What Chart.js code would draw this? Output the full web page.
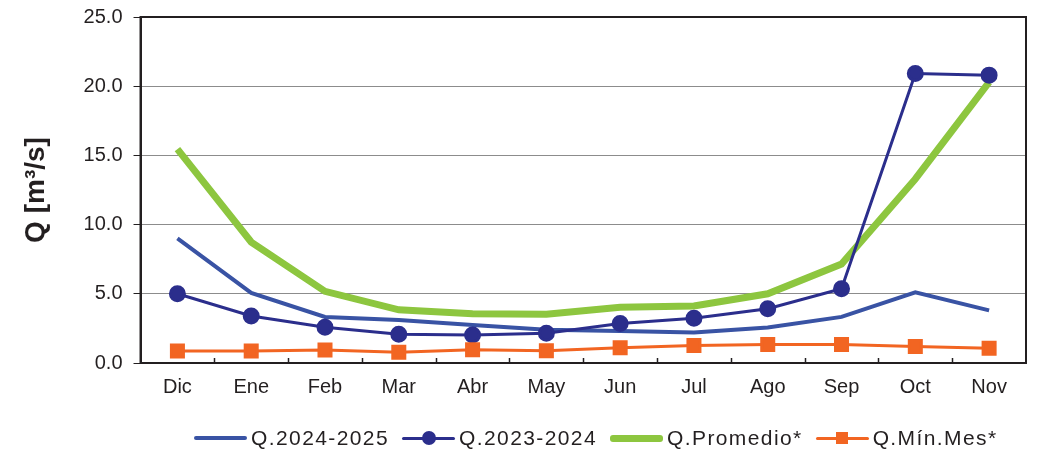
<!DOCTYPE html>
<html>
<head>
<meta charset="utf-8">
<script src="https://cdn.jsdelivr.net/npm/chart.js@4.4.1/dist/chart.umd.min.js"></script>
<style>
  body { margin: 0; background: #fff; }
  #wrap { position: relative; width: 1043px; height: 455px; }
  #legend { position: absolute; left: 194px; top: 425px; display: flex; gap: 13px;
            font-family: "Liberation Sans", Arial, sans-serif; font-size: 21px; color: #231F20;
            letter-spacing: 1.4px; }
  .item { display: flex; align-items: center; gap: 4px; }
  .sw { position: relative; width: 53px; height: 26px; }
  .sw .ln { position: absolute; left: 0; right: 0; top: 50%; border-radius: 3px; }
  .sw .mk { position: absolute; left: 50%; top: 50%; }
</style>
</head>
<body>
<div id="wrap">
  <canvas id="chart" width="1043" height="455"></canvas>
  <div id="legend"></div>
</div>
<script>
try {

// months (Dic..Nov)
const months = ['Dic', 'Ene', 'Feb', 'Mar', 'Abr', 'May', 'Jun', 'Jul', 'Ago', 'Sep', 'Oct', 'Nov'];

// caudales m3/s
const q2024_2025 = [9.0, 5.07, 3.33, 3.1, 2.75, 2.4, 2.32, 2.2, 2.56, 3.33, 5.1, 3.8];
const q2023_2024 = [5.0, 3.4, 2.58, 2.07, 2.03, 2.15, 2.85, 3.24, 3.92, 5.36, 20.92, 20.8];
const qPromedio  = [15.45, 8.74, 5.18, 3.84, 3.56, 3.52, 4.02, 4.12, 5.0, 7.15, 13.3, 20.3];
const qMinMes    = [0.87, 0.87, 0.94, 0.77, 0.96, 0.88, 1.1, 1.26, 1.33, 1.33, 1.2, 1.06];

const yTicks = [0, 5, 10, 15, 20, 25];

const FONT = '"Liberation Sans", Arial, sans-serif';
const TXT = '#231F20';

// frame around plot + small inner ticks on x axis
const framePlugin = {
  id: 'frame',
  afterDraw(chart) {
    const a = chart.chartArea, ctx = chart.ctx, x = chart.scales.x;
    ctx.save();
    ctx.strokeStyle = TXT;
    ctx.lineWidth = 2;
    ctx.strokeRect(a.left, a.top, a.right - a.left, a.bottom - a.top);
    ctx.lineWidth = 1.5;
    for (let i = 1; i < months.length; i++) {
      const px = Math.round(x.getPixelForValue(i - 0.5)) + 0.5;
      ctx.beginPath();
      ctx.moveTo(px, a.bottom);
      ctx.lineTo(px, a.bottom - 5);
      ctx.stroke();
    }
    ctx.restore();
  }
};

const datasets = [
  { label: 'Q.2024-2025', data: q2024_2025, borderColor: '#3953A4', backgroundColor: '#3953A4',
    borderWidth: 4, pointRadius: 0, order: 2 },
  { label: 'Q.2023-2024', data: q2023_2024, borderColor: '#2B2E8C', backgroundColor: '#2B2E8C',
    borderWidth: 3, pointRadius: 7, pointStyle: 'circle', order: 1 },
  { label: 'Q.Promedio*', data: qPromedio, borderColor: '#8DC63F', backgroundColor: '#8DC63F',
    borderWidth: 7, pointRadius: 0, order: 3 },
  { label: 'Q.Mín.Mes*', data: qMinMes, borderColor: '#F26522', backgroundColor: '#F26522',
    borderWidth: 3, pointRadius: 8.5, pointStyle: 'rect', order: 0 }
];

new Chart(document.getElementById('chart'), {
  type: 'line',
  data: { labels: months, datasets: datasets },
  options: {
    responsive: false,
    animation: false,
    layout: { padding: { top: 0, right: 17, bottom: 44, left: 19 } },
    plugins: { legend: { display: false }, tooltip: { enabled: false } },
    elements: { line: { tension: 0 } },
    scales: {
      x: {
        offset: true,
        grid: { display: false, drawTicks: false },
        border: { display: true, color: TXT, width: 2 },
        ticks: { color: TXT, font: { family: FONT, size: 20 }, padding: 12 }
      },
      y: {
        min: 0, max: 25,
        afterBuildTicks(s) { s.ticks = yTicks.map(v => ({ value: v })); },
        grid: { color: '#8c8c8c', lineWidth: 1, tickLength: 7, tickColor: TXT },
        border: { display: true, color: TXT, width: 2 },
        ticks: { color: TXT, font: { family: FONT, size: 20, lineHeight: 0.6 }, padding: 11,
                 callback: v => v.toFixed(1) },
        title: { display: true, text: 'Q [m³/s]', color: TXT,
                 font: { family: FONT, size: 28, weight: 'bold' }, padding: { top: 0, bottom: 20 } }
      }
    }
  },
  plugins: [framePlugin]
});

// legend (line + marker swatches)
const legend = document.getElementById('legend');
datasets.forEach(ds => {
  const item = document.createElement('div');
  item.className = 'item';
  const sw = document.createElement('div');
  sw.className = 'sw';
  const ln = document.createElement('div');
  ln.className = 'ln';
  ln.style.height = ds.borderWidth + 'px';
  ln.style.marginTop = (-ds.borderWidth / 2) + 'px';
  ln.style.background = ds.borderColor;
  sw.appendChild(ln);
  if (ds.pointRadius > 0) {
    const mk = document.createElement('div');
    mk.className = 'mk';
    const s = ds.pointStyle === 'rect' ? 12 : 14;
    mk.style.width = s + 'px'; mk.style.height = s + 'px';
    mk.style.marginLeft = (-s / 2) + 'px'; mk.style.marginTop = (-s / 2) + 'px';
    mk.style.background = ds.borderColor;
    if (ds.pointStyle === 'circle') mk.style.borderRadius = '50%';
    sw.appendChild(mk);
  }
  const t = document.createElement('span');
  t.textContent = ds.label;
  item.appendChild(sw);
  item.appendChild(t);
  legend.appendChild(item);
});

} catch (err) {
  console.error(err);
}
</script>
</body>
</html>
